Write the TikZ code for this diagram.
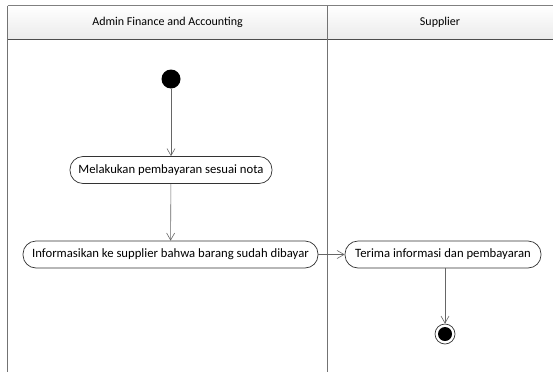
\documentclass[tikz,border=0pt]{standalone}
\usepackage{fontspec}
\setmainfont{Carlito}
\usetikzlibrary{arrows.meta}
\begin{document}
\begin{tikzpicture}[x=1pt,y=-1pt,
  lane/.style={draw=black!55,line width=1.2pt},
  action/.style={draw=black!80,line width=0.7pt,rounded corners=13pt,minimum height=27pt,inner xsep=3pt,font=\fontsize{12.7pt}{14pt}\selectfont,anchor=center},
  flow/.style={draw=black!60,line width=0.6pt,-{Straight Barb[length=7pt,width=8pt,line width=0.6pt]}},
  hdr/.style={font=\fontsize{12pt}{14pt}\selectfont}]
\useasboundingbox (0,0) rectangle (553,372);
\shade[top color=white,bottom color=black!8] (7.5,5.5) rectangle (553,39.5);
\draw[draw=black!50,line width=1.2pt] (7.5,5.5) -- (553,5.5);
\draw[draw=black!70,line width=1.2pt] (7.5,39.5) -- (553,39.5);
\draw[lane] (7.5,5.5) -- (7.5,372);
\draw[lane] (327.7,5.5) -- (327.7,372);
\node[hdr] (h1) at (167.6,22.5) {Admin Finance and Accounting};
\node[hdr] (h2) at (440,22.5) {Supplier};
\node[circle,fill=black,minimum size=19pt,inner sep=0pt] (start) at (171,79) {};
\node[action,minimum width=202pt] (a1) at (171,170) {Melakukan pembayaran sesuai nota};
\node[action,minimum width=295pt] (a2) at (170.5,254.5) {Informasikan ke supplier bahwa barang sudah dibayar};
\node[action,minimum width=196pt] (a3) at (443,254.5) {Terima informasi dan pembayaran};
\node[circle,draw=black!80,line width=0.7pt,minimum size=20pt,inner sep=0pt] (end) at (445,334) {};
\node[circle,fill=black,minimum size=14pt,inner sep=0pt] at (end) {};
\draw[flow] (start) -- (a1);
\draw[flow] (a1) -- (a2);
\draw[flow] (a2) -- (a3);
\draw[flow] (a3.south -| end) -- (end);
\end{tikzpicture}
\end{document}
